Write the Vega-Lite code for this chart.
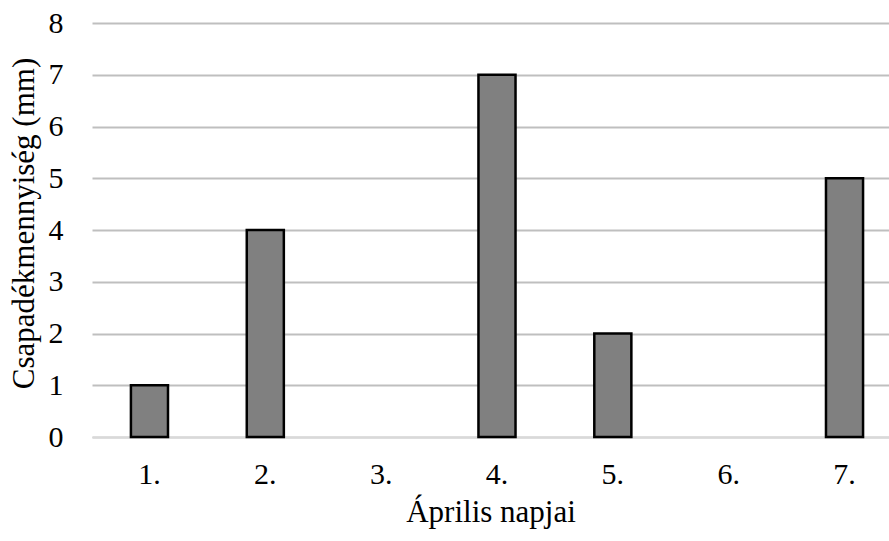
{
  "$schema": "https://vega.github.io/schema/vega-lite/v6.json",
  "autosize": {"type": "none"},
  "padding": {"left": 92, "top": 23, "right": 0, "bottom": 104},
  "width": 797,
  "height": 414,
  "background": "white",
  "config": {
    "view": {"stroke": null},
    "font": "Liberation Serif"
  },
  "data": {
    "values": [
      {"nap": "1.", "mm": 1},
      {"nap": "2.", "mm": 4},
      {"nap": "3.", "mm": 0},
      {"nap": "4.", "mm": 7},
      {"nap": "5.", "mm": 2},
      {"nap": "6.", "mm": 0},
      {"nap": "7.", "mm": 5}
    ]
  },
  "transform": [{"filter": "datum.mm > 0"}],
  "mark": {"type": "bar", "fill": "#808080", "stroke": "#000000", "strokeWidth": 2.5},
  "encoding": {
    "x": {
      "field": "nap",
      "type": "ordinal",
      "sort": null,
      "scale": {"domain": ["1.", "2.", "3.", "4.", "5.", "6.", "7."], "paddingInner": 0.68, "paddingOuter": 0.28, "align": 0.6},
      "axis": {
        "title": "Április napjai",
        "titleFont": "Liberation Serif",
        "titleFontSize": 31,
        "titleFontWeight": "normal",
        "titleColor": "#000000",
        "titlePadding": 8,
        "labelFont": "Liberation Serif",
        "labelFontSize": 30,
        "labelColor": "#000000",
        "labelAngle": 0,
        "labelPadding": 22,
        "ticks": false,
        "domain": true,
        "domainColor": "#d9d9d9",
        "domainWidth": 1.5,
        "grid": false
      }
    },
    "y": {
      "field": "mm",
      "type": "quantitative",
      "scale": {"domain": [0, 8], "nice": false},
      "axis": {
        "title": "Csapadékmennyiség (mm)",
        "titleFont": "Liberation Serif",
        "titleFontSize": 31,
        "titleFontWeight": "normal",
        "titleColor": "#000000",
        "titleX": -52,
        "titleY": 200,
        "titleAngle": 270,
        "titleAlign": "center",
        "titleBaseline": "bottom",
        "values": [0, 1, 2, 3, 4, 5, 6, 7, 8],
        "labelFont": "Liberation Serif",
        "labelFontSize": 30,
        "labelColor": "#000000",
        "labelPadding": 29,
        "ticks": false,
        "domain": false,
        "grid": true,
        "gridColor": "#bfbfbf",
        "gridWidth": 2
      }
    }
  }
}
